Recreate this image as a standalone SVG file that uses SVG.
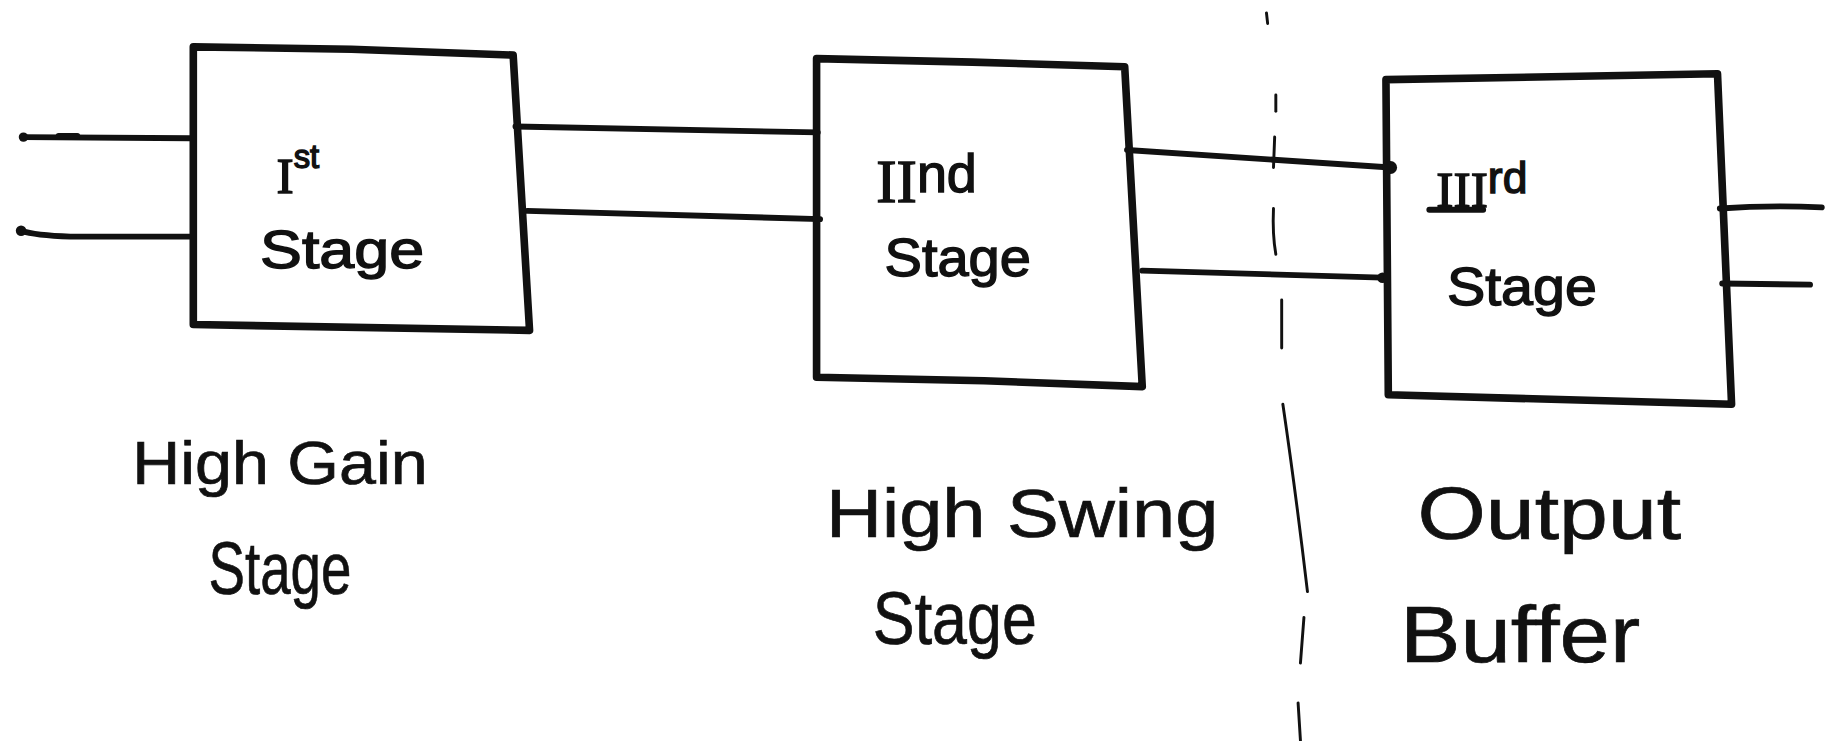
<svg xmlns="http://www.w3.org/2000/svg" width="1837" height="741" viewBox="0 0 1837 741">
<style>
.box{fill:none;stroke:#111;stroke-width:6.5;stroke-linejoin:round;stroke-linecap:round}
.wire{fill:none;stroke:#111;stroke-width:5;stroke-linecap:round}
.div{fill:none;stroke:#111;stroke-width:2.5;stroke-linecap:round}
.dot{fill:#111}
.t{font-family:"Liberation Sans",Arial,sans-serif;fill:#111}
.in{font-size:46px;stroke:#111;stroke-width:1.2}
.rn{font-family:"Liberation Serif","Times New Roman",serif}
.lab{stroke:#111;stroke-width:0.6}
</style>
<rect width="1837" height="741" fill="#fff"/>
<g transform="scale(1.17156)">
<g id="connectors">
<path class="wire" d="M20,117 L163,118"/>
<path class="wire" d="M50,116 L66,116" stroke-width="7"/>
<path class="wire" d="M18,197 Q30,201 60,202 L163,202"/>
<path class="wire" d="M440,108 L698,113"/>
<path class="wire" d="M450,180 L700,187"/>
<path class="wire" d="M962,128 L1187,143"/>
<path class="wire" d="M975,231 L1180,237"/>
<path class="wire" d="M1468,178 Q1510,175 1555,177"/>
<path class="wire" d="M1470,242 L1545,243"/>
<circle class="dot" cx="20" cy="117" r="4"/>
<circle class="dot" cx="18" cy="197" r="4.5"/>
<circle class="dot" cx="1187" cy="143" r="5.5"/>
<circle class="dot" cx="1180" cy="237" r="4.5"/>
</g>
<g id="divider">
<path class="div" d="M1081,11 L1082,20" stroke-width="3.5"/>
<path class="div" d="M1089,81 L1089,95"/>
<path class="div" d="M1088,117 L1087,143"/>
<path class="div" d="M1087,178 Q1086,200 1089,217"/>
<path class="div" d="M1094,256 L1094,297"/>
<path class="div" d="M1095,345 Q1106,420 1116,505"/>
<path class="div" d="M1113,527 L1110,566"/>
<path class="div" d="M1108,600 L1110,632"/>
</g>
<g id="stage1">
<path class="box" d="M165,40 L300,42 L438,47 L452,282 L165,277 Z"/>
<text class="t in" x="236" y="165"><tspan class="rn" font-size="44">I</tspan><tspan dy="-22" font-size="28">st</tspan></text>
<text class="t in" x="222" y="229" textLength="140" lengthAdjust="spacingAndGlyphs">Stage</text>
</g>
<g id="stage2">
<path class="box" d="M697,50 L830,53 L960,57 L975,330 L840,325 L697,322 Z"/>
<text class="t in" x="748" y="172"><tspan class="rn" font-size="52">II</tspan><tspan dy="-8" font-size="46">nd</tspan></text>
<text class="t in" x="755" y="236" textLength="125" lengthAdjust="spacingAndGlyphs">Stage</text>
</g>
<g id="stage3">
<path class="box" d="M1183,68 L1466,63 L1478,345 L1185,337 Z"/>
<text class="t in" x="1226" y="177"><tspan class="rn" font-size="44">III</tspan><tspan dy="-12" font-size="38">rd</tspan></text>
<path class="wire" d="M1220,179 L1266,179" stroke-width="4"/>
<text class="t in" x="1235" y="260" textLength="128" lengthAdjust="spacingAndGlyphs">Stage</text>
</g>
<g id="label-gain">
<text class="t lab" x="113" y="413" font-size="52" textLength="252" lengthAdjust="spacingAndGlyphs">High Gain</text>
<text class="t lab" x="178" y="507" font-size="64" textLength="122" lengthAdjust="spacingAndGlyphs">Stage</text>
</g>
<g id="label-swing">
<text class="t lab" x="705" y="458" font-size="58" textLength="335" lengthAdjust="spacingAndGlyphs">High Swing</text>
<text class="t lab" x="745" y="550" font-size="64" textLength="140" lengthAdjust="spacingAndGlyphs">Stage</text>
</g>
<g id="label-buffer">
<text class="t lab" x="1210" y="460" font-size="64" textLength="225" lengthAdjust="spacingAndGlyphs">Output</text>
<text class="t lab" x="1195" y="565" font-size="68" textLength="205" lengthAdjust="spacingAndGlyphs">Buffer</text>
</g>
</g>
</svg>
